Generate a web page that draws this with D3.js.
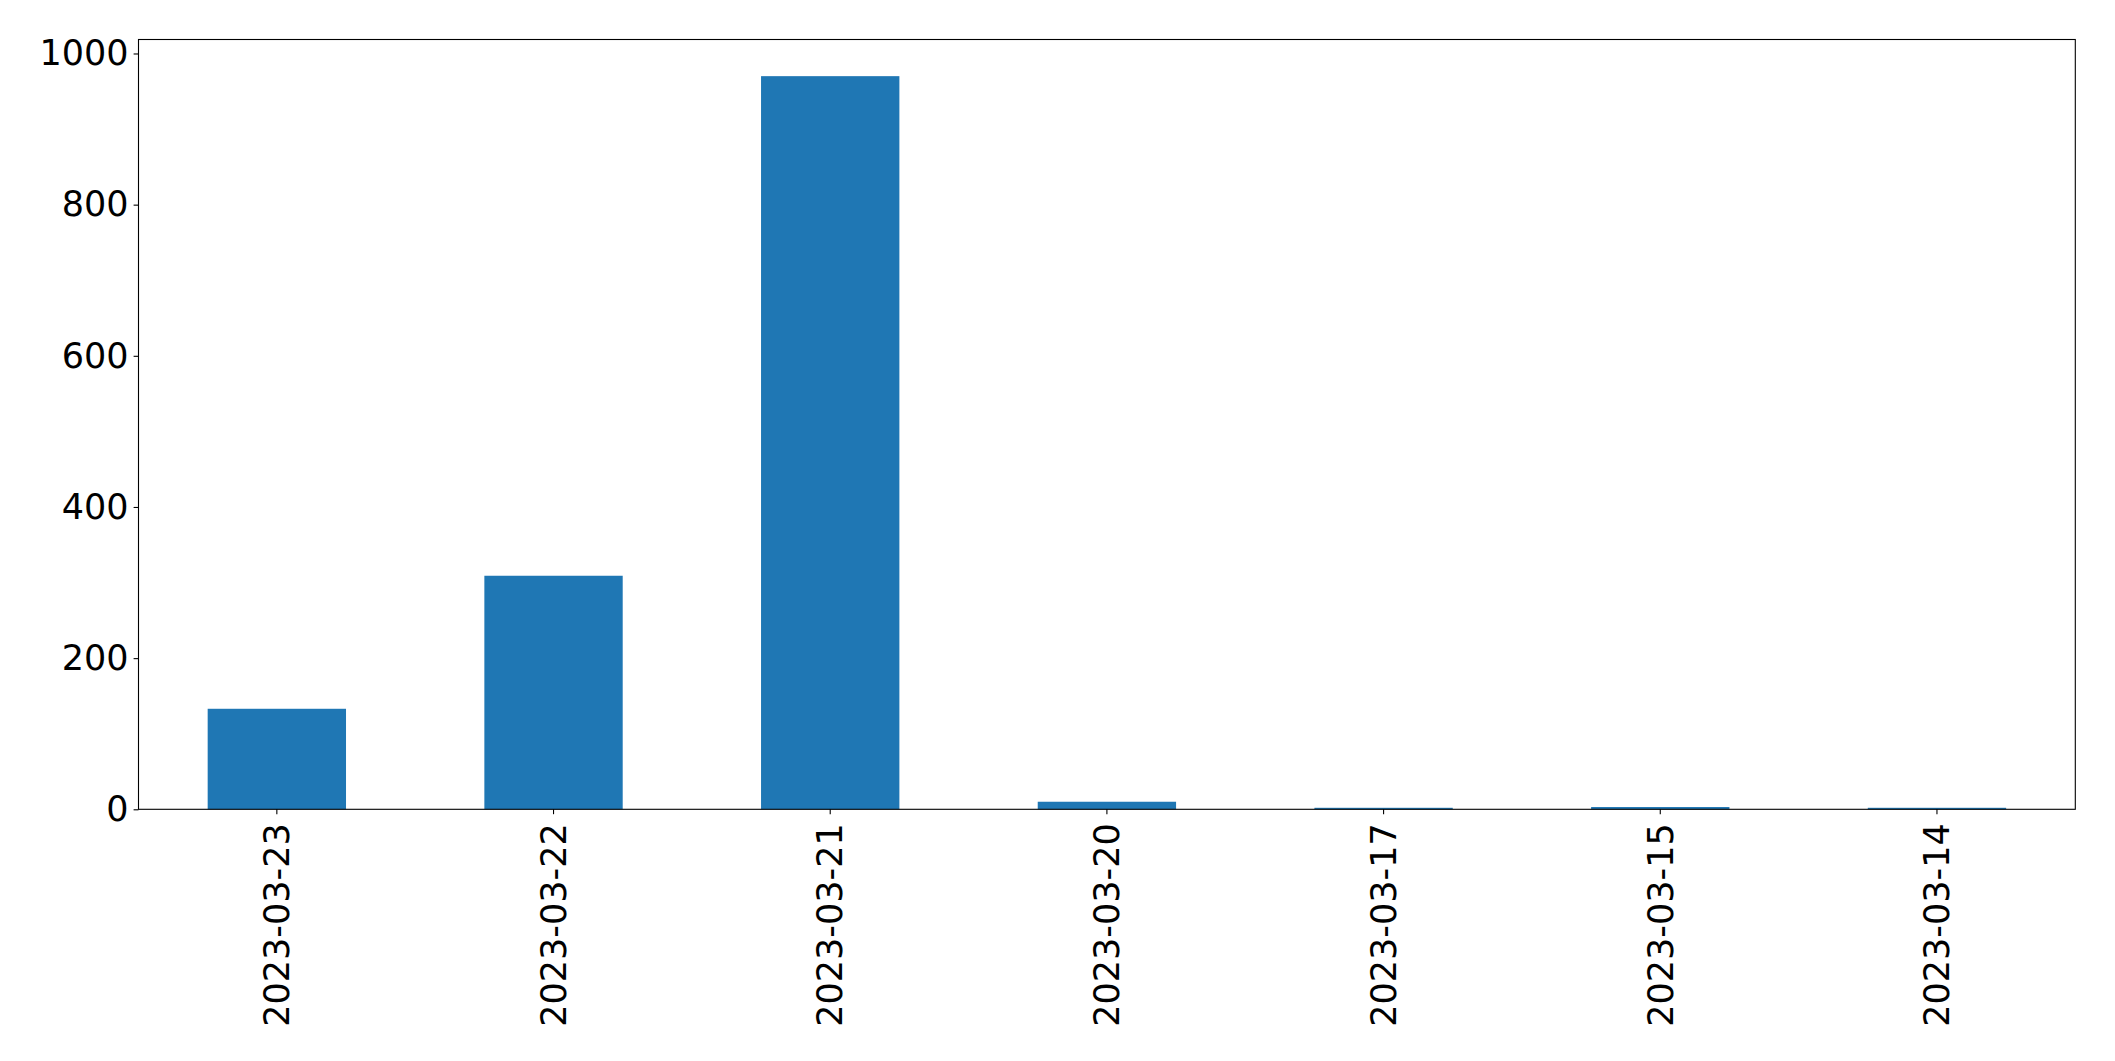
<!DOCTYPE html>
<html>
<head>
<meta charset="utf-8">
<script src="https://cdn.jsdelivr.net/npm/d3@7"></script>
<style>
  html, body { margin: 0; padding: 0; background: #fff; }
  svg { display: block; }
</style>
</head>
<body>
<div id="chart"></div>
<script>
const dates = ['2023-03-23', '2023-03-22', '2023-03-21', '2023-03-20', '2023-03-17', '2023-03-15', '2023-03-14'];
const counts = [133, 309, 970, 10, 2, 3, 2];
const yTicks = [0, 200, 400, 600, 800, 1000];

const W = 2115, H = 1061;
const margin = { top: 39.5, right: 2115 - 2075.3, bottom: 1061 - 809.3, left: 138.5 };
const fontSize = 35;
const font = 'DejaVu Sans';

const svg = d3.select('#chart').append('svg')
  .attr('width', W)
  .attr('height', H);

const x = d3.scaleBand()
  .domain(dates)
  .range([margin.left, W - margin.right])
  .paddingInner(0.5)
  .paddingOuter(0.25);

const y = d3.scaleLinear()
  .domain([0, d3.max(counts) * 1.05])
  .range([H - margin.bottom, margin.top]);

// bars
svg.append('g')
  .selectAll('rect')
  .data(dates)
  .join('rect')
    .attr('x', d => x(d))
    .attr('y', (d, i) => y(counts[i]))
    .attr('width', x.bandwidth())
    .attr('height', (d, i) => y(0) - y(counts[i]))
    .attr('fill', '#1f77b4');

// y axis
const yAxis = svg.append('g')
  .attr('transform', `translate(${margin.left},0)`)
  .call(d3.axisLeft(y).tickValues(yTicks).tickFormat(d3.format('d')).tickSize(4.9).tickPadding(5));
yAxis.attr('font-family', font).attr('font-size', fontSize);
yAxis.select('.domain').remove();
yAxis.selectAll('line').attr('stroke', '#000').attr('stroke-width', 1.1);
yAxis.selectAll('text').attr('fill', '#000');

// x axis
const xAxis = svg.append('g')
  .attr('transform', `translate(0,${H - margin.bottom})`)
  .call(d3.axisBottom(x).tickSize(4.9).tickPadding(0));
xAxis.attr('font-family', font).attr('font-size', fontSize);
xAxis.select('.domain').remove();
xAxis.selectAll('line').attr('stroke', '#000').attr('stroke-width', 1.1);
xAxis.selectAll('text')
  .attr('fill', '#000')
  .attr('transform', 'rotate(-90)')
  .attr('x', -14)
  .attr('y', 0)
  .attr('dy', '0.35em')
  .attr('text-anchor', 'end');

// frame
svg.append('rect')
  .attr('x', margin.left)
  .attr('y', margin.top)
  .attr('width', W - margin.left - margin.right)
  .attr('height', H - margin.top - margin.bottom)
  .attr('fill', 'none')
  .attr('stroke', '#000')
  .attr('stroke-width', 1.1);
</script>
</body>
</html>
